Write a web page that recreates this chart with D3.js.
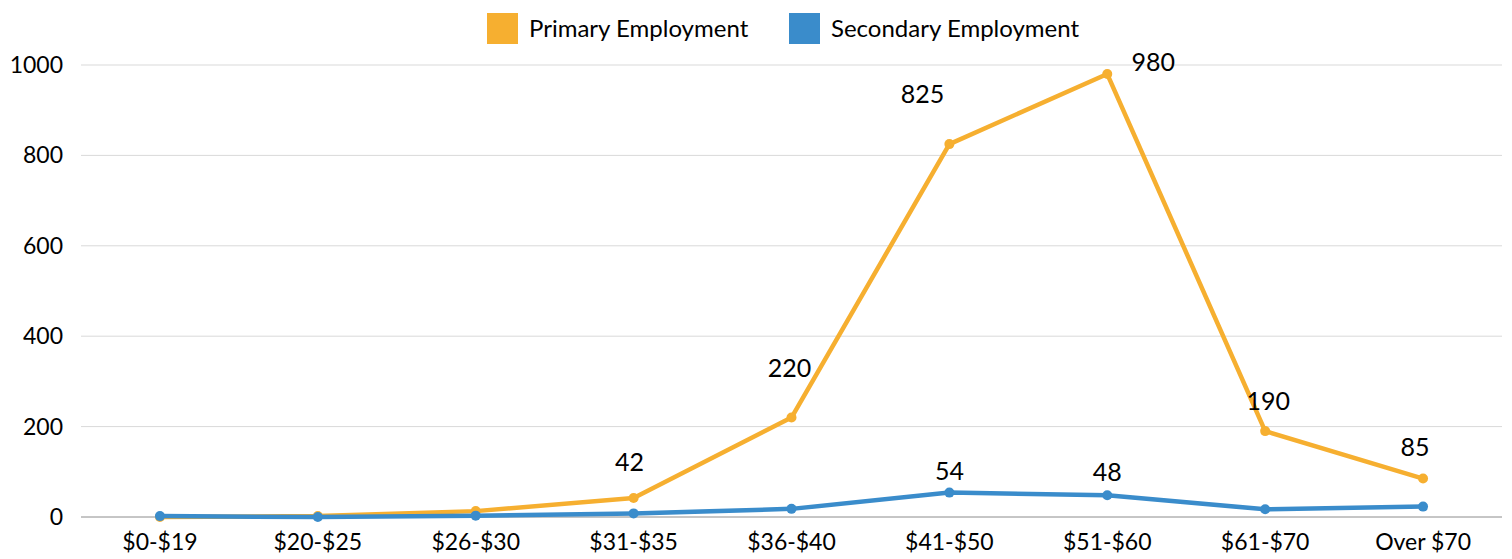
<!DOCTYPE html>
<html lang="en">
<head>
<meta charset="utf-8">
<script src="https://d3js.org/d3.v7.min.js"></script>
<style>
  body { margin: 0; background: #fff; }
  text { font-family: Lato, "Open Sans", sans-serif; fill: #000; }
</style>
</head>
<body>
<script>
var categories = ["$0-$19", "$20-$25", "$26-$30", "$31-$35", "$36-$40", "$41-$50", "$51-$60", "$61-$70", "Over $70"];
var primary = [0, 2, 13, 42, 220, 825, 980, 190, 85];
var secondary = [2, 0, 3, 8, 18, 54, 48, 17, 23];
var yTicks = [0, 200, 400, 600, 800, 1000];
var seriesNames = ["Primary Employment", "Secondary Employment"];
var colors = ["#F6AF30", "#3A8CCB"];

// which points get a data label, and where it sits relative to the point
var primaryLabels = {3: [-4, -27], 4: [-2, -41], 5: [-27, -41], 6: [46, -3], 7: [3, -21], 8: [-8, -23]};
var secondaryLabels = {5: [0, -13], 6: [0, -14]};

var width = 1512, height = 559;
var margin = {top: 65, right: 10, bottom: 42, left: 81};

var svg = d3.select("body").append("svg")
    .attr("width", width)
    .attr("height", height);

var x = d3.scaleBand()
    .domain(categories)
    .range([margin.left, width - margin.right]);

var y = d3.scaleLinear()
    .domain([0, 1000])
    .range([height - margin.bottom, margin.top]);

// gridlines
svg.append("g").selectAll("line")
    .data(yTicks.filter(function(d) { return d > 0; }))
    .enter().append("line")
    .attr("x1", margin.left).attr("x2", width - margin.right)
    .attr("y1", function(d) { return y(d); })
    .attr("y2", function(d) { return y(d); })
    .attr("stroke", "#d9d9d9").attr("stroke-width", 1);

svg.append("line")
    .attr("x1", margin.left).attr("x2", width - margin.right)
    .attr("y1", y(0)).attr("y2", y(0))
    .attr("stroke", "#8c8c8c").attr("stroke-width", 1);

// y axis labels
svg.append("g").selectAll("text")
    .data(yTicks)
    .enter().append("text")
    .attr("x", 63)
    .attr("y", function(d) { return y(d); })
    .attr("dy", "0.35em")
    .attr("text-anchor", "end")
    .style("font-size", "23px")
    .text(function(d) { return d; });

// x axis labels
svg.append("g").selectAll("text")
    .data(categories)
    .enter().append("text")
    .attr("x", function(d) { return x(d) + x.bandwidth() / 2; })
    .attr("y", y(0) + 33)
    .attr("text-anchor", "middle")
    .style("font-size", "23px")
    .text(function(d) { return d; });

var line = d3.line()
    .x(function(d, i) { return x(categories[i]) + x.bandwidth() / 2; })
    .y(function(d) { return y(d); });

function drawSeries(values, color, labels) {
    svg.append("path")
        .datum(values)
        .attr("d", line)
        .attr("fill", "none")
        .attr("stroke", color)
        .attr("stroke-width", 4.5)
        .attr("stroke-linejoin", "round");

    svg.append("g").selectAll("circle")
        .data(values)
        .enter().append("circle")
        .attr("cx", function(d, i) { return x(categories[i]) + x.bandwidth() / 2; })
        .attr("cy", function(d) { return y(d); })
        .attr("r", 5)
        .attr("fill", color);

    svg.append("g").selectAll("text")
        .data(values.map(function(v, i) { return {v: v, i: i}; }).filter(function(d) { return labels[d.i]; }))
        .enter().append("text")
        .attr("x", function(d) { return x(categories[d.i]) + x.bandwidth() / 2 + labels[d.i][0]; })
        .attr("y", function(d) { return y(d.v) + labels[d.i][1]; })
        .attr("text-anchor", "middle")
        .style("font-size", "25px")
        .text(function(d) { return d.v; });
}

drawSeries(primary, colors[0], primaryLabels);
drawSeries(secondary, colors[1], secondaryLabels);

// legend
var legendX = [487, 789];
var legend = svg.append("g").selectAll("g")
    .data(seriesNames)
    .enter().append("g")
    .attr("transform", function(d, i) { return "translate(" + legendX[i] + ",13)"; });

legend.append("rect")
    .attr("width", 31).attr("height", 31)
    .attr("fill", function(d, i) { return colors[i]; });

legend.append("text")
    .attr("x", 42)
    .attr("y", 16)
    .attr("dy", "0.35em")
    .style("font-size", "24px")
    .text(function(d) { return d; });
</script>
</body>
</html>
